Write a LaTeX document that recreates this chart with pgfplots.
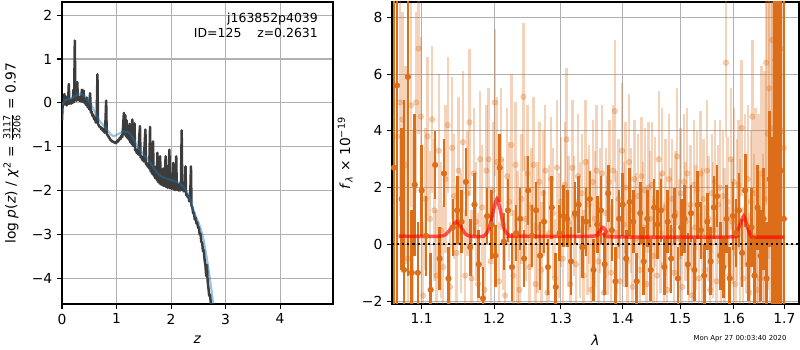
\documentclass[border=0pt]{standalone}
\usepackage{pgfplots}
\usepackage{pgfplotstable}
\usepackage{amsmath}
\usepackage{fontspec}
\setmainfont{DejaVu Sans}
\pgfplotsset{compat=1.18}
\definecolor{darkor}{RGB}{220,110,25}
\definecolor{gridc}{RGB}{176,176,176}
\definecolor{pzline}{RGB}{60,60,60}
\definecolor{pzblue}{RGB}{31,119,180}

\pgfplotstableread{
x y e
1.064 2.7 9
1.068 5.6 8
1.074 1.6 2.5
1.077 -0.9 6
1.082 5.9 7
1.087 -1.0 2.2
1.091 2.1 2.5
1.095 -1.0 1.8
1.100 1.9 1.6
1.106 0.3 1.4
1.112 -1.6 1.3
1.118 2.8 1.2
1.124 -0.5 1.1
1.130 2.5 1.2
1.136 -1.2 1.1
1.142 0.6 1.0
1.148 1.2 1.2
1.154 0.8 1.1
1.160 2.2 1.2
1.166 -0.1 1.0
1.172 1.4 1.1
1.178 -0.7 1.2
1.184 -1.9 1.1
1.190 1.0 1.0
1.196 0.7 1.2
1.202 -0.4 1.1
1.208 2.7 1.2
1.214 0.1 1.0
1.220 1.2 1.1
1.226 -0.8 1.2
1.232 0.4 1.0
1.238 0.9 1.1
1.244 -0.5 1.0
1.250 1.9 1.2
1.256 0.3 1.1
1.262 1.2 1.0
1.268 -0.4 1.2
1.274 0.8 1.1
1.280 -0.8 1.0
1.286 1.3 1.1
1.292 -1.5 1.2
1.298 0.4 1.0
1.304 1.0 1.1
1.310 0.9 1.0
1.316 -0.6 1.2
1.322 1.1 1.1
1.328 1.4 1.0
1.334 -0.1 1.1
1.340 0.8 1.2
1.346 1.6 1.0
1.352 -0.9 1.1
1.358 0.7 1.0
1.364 1.2 1.2
1.370 -0.7 1.1
1.376 1.8 1.0
1.382 0.5 1.1
1.388 -1.3 1.2
1.394 0.9 1.0
1.400 1.4 1.1
1.406 -0.5 1.0
1.412 1.5 1.2
1.418 0.8 1.1
1.424 -1.3 1.0
1.430 1.1 1.1
1.436 -0.6 1.2
1.442 0.9 1.0
1.448 -0.9 1.1
1.454 1.3 1.0
1.460 0.7 1.2
1.466 1.2 1.1
1.472 -0.8 1.0
1.478 0.8 1.1
1.484 -0.5 1.2
1.490 1.0 1.0
1.496 -1.2 1.1
1.502 0.6 1.0
1.508 0.9 1.2
1.514 -0.7 1.1
1.520 1.1 1.0
1.526 -0.9 1.1
1.532 1.4 1.2
1.538 0.5 1.0
1.544 -1.1 1.1
1.550 0.8 1.0
1.556 -0.6 1.2
1.562 1.3 1.1
1.568 1.7 1.1
1.574 -0.4 1.2
1.580 -0.8 1.1
1.586 0.9 1.2
1.592 -1.2 1.1
1.598 1.0 1.2
1.604 0.4 1.2
1.610 1.2 1.3
1.616 -0.3 1.2
1.622 1.9 1.3
1.628 -0.7 1.3
1.634 0.6 1.4
1.640 -1.1 1.4
1.646 1.3 1.5
1.652 -0.4 1.6
1.658 0.9 1.8
1.664 -1.2 2.0
1.670 2.3 2.4
1.675 0.8 3
1.680 3.1 8
1.686 1.9 9
1.692 2.6 10
1.699 0.9 10
}\darkdata

\pgfplotstableread{
x y e
1.068 3.8 4.5
1.072 5.0 4.0
1.075 4.4 3.8
1.079 2.8 3.5
1.082 -0.5 3.2
1.086 4.9 3.6
1.089 1.0 3.0
1.093 5.0 3.2
1.096 6.9 3.0
1.099 4.5 2.8
1.102 -1.8 2.6
1.105 1.6 2.5
1.108 3.8 2.8
1.111 0.9 2.4
1.114 4.4 2.6
1.117 1.2 2.5
1.120 -1.1 2.3
1.123 3.3 2.7
1.126 0.5 2.4
1.129 -0.8 2.2
1.132 2.3 2.6
1.135 4.2 2.4
1.138 -1.5 2.3
1.141 3.4 2.5
1.144 1.7 2.2
1.147 -0.3 2.4
1.150 2.6 2.6
1.153 0.4 2.1
1.156 3.6 2.5
1.159 -1.1 2.3
1.162 1.8 2.2
1.165 4.3 2.6
1.168 -1.2 2.4
1.171 2.5 2.3
1.174 0.8 2.1
1.177 -1.4 2.5
1.180 3.0 2.4
1.183 1.3 2.2
1.186 -1.6 2.6
1.189 2.6 2.3
1.192 3.0 2.5
1.195 -0.6 2.2
1.198 1.9 2.4
1.201 5.0 2.6
1.204 2.9 2.3
1.207 -1.3 2.1
1.210 3.0 2.5
1.213 0.7 2.3
1.216 -1.8 2.2
1.219 2.4 2.4
1.222 1.5 2.1
1.225 3.5 2.5
1.228 -1.1 2.3
1.231 2.8 2.2
1.234 0.2 2.4
1.237 -1.6 2.1
1.240 1.6 2.3
1.243 5.2 2.6
1.246 0.9 2.2
1.249 2.5 2.4
1.252 -0.8 2.3
1.255 1.3 2.1
1.258 2.8 2.4
1.261 -1.4 2.2
1.264 0.6 2.3
1.267 2.2 2.1
1.270 -0.9 2.4
1.273 1.8 2.2
1.276 2.6 2.3
1.279 -1.7 2.1
1.282 0.4 2.4
1.285 2.3 2.2
1.288 1.1 2.3
1.291 -1.2 2.1
1.294 2.7 2.4
1.297 0.3 2.2
1.300 1.5 2.3
1.303 -0.5 2.1
1.306 2.1 2.2
1.309 3.7 2.5
1.312 0.8 2.3
1.315 -1.4 2.2
1.318 2.7 2.4
1.321 1.0 2.1
1.324 -0.7 2.3
1.327 2.4 2.2
1.330 0.5 2.4
1.333 1.8 2.1
1.336 -1.1 2.3
1.339 2.9 2.2
1.342 0.6 2.4
1.345 1.4 2.1
1.348 -1.6 2.3
1.351 2.2 2.2
1.354 0.9 2.4
1.357 2.6 2.3
1.360 -0.6 2.1
1.363 1.2 2.2
1.366 2.5 2.4
1.369 -1.7 2.2
1.372 1.1 2.3
1.375 0.3 2.1
1.378 2.2 2.2
1.381 -1.0 2.4
1.384 2.6 2.3
1.387 4.7 2.5
1.390 0.4 2.2
1.393 1.6 2.1
1.396 -1.3 2.3
1.399 3.3 2.4
1.402 0.7 2.2
1.405 2.0 2.3
1.408 -0.6 2.1
1.411 2.9 2.4
1.414 1.2 2.2
1.417 -1.5 2.3
1.420 2.3 2.1
1.423 0.2 2.3
1.426 1.7 2.2
1.429 -0.9 2.4
1.432 2.4 2.1
1.435 0.6 2.3
1.438 1.9 2.2
1.441 -1.4 2.1
1.444 2.0 2.3
1.447 0.9 2.4
1.450 2.1 2.2
1.453 -0.4 2.1
1.456 1.5 2.3
1.459 -1.1 2.2
1.462 3.0 2.4
1.465 0.4 2.1
1.468 2.5 2.3
1.471 -0.7 2.2
1.474 1.3 2.4
1.477 -1.6 2.1
1.480 2.3 2.3
1.483 0.5 2.2
1.486 1.6 2.1
1.489 -1.0 2.3
1.492 1.1 2.2
1.495 3.1 2.4
1.498 0.2 2.1
1.501 1.8 2.3
1.504 -1.5 2.2
1.507 2.2 2.4
1.510 0.8 2.1
1.513 2.5 2.3
1.516 -0.8 2.2
1.519 1.4 2.1
1.522 -1.8 2.4
1.525 2.1 2.3
1.528 0.6 2.2
1.531 1.9 2.1
1.534 -1.2 2.3
1.537 2.5 2.2
1.540 0.3 2.4
1.543 1.6 2.1
1.546 -0.9 2.3
1.549 2.6 2.5
1.552 0.9 2.2
1.555 -1.6 2.3
1.558 1.8 2.1
1.561 0.5 2.4
1.564 2.2 2.2
1.567 -1.3 2.3
1.570 1.4 2.1
1.573 2.0 2.4
1.576 -0.6 2.2
1.579 1.7 2.3
1.582 0.2 2.5
1.585 6.4 2.6
1.588 1.5 2.3
1.591 -1.1 2.4
1.594 3.0 2.5
1.597 0.8 2.2
1.600 2.2 2.6
1.603 -1.4 2.4
1.606 1.2 2.5
1.609 2.1 2.3
1.612 0.4 2.6
1.615 4.1 2.4
1.618 -1.2 2.5
1.621 1.9 2.7
1.624 0.7 2.4
1.627 2.3 2.6
1.630 -1.7 2.8
1.633 1.5 2.5
1.636 4.5 2.7
1.639 0.3 2.9
1.642 1.8 3.0
1.645 -1.6 3.2
1.648 1.2 3.4
1.651 -1.2 3.6
1.654 2.5 3.8
1.657 -0.8 4.0
1.660 1.6 4.5
1.663 6.4 5
1.666 3.9 5.5
1.669 5.5 6
1.672 2.3 6.5
1.675 7.2 7
1.678 4.1 7.5
1.681 6.5 8
1.684 3.4 8.5
1.687 8.0 9
1.690 3.9 9
1.693 6.9 9.5
1.696 4.0 10
1.699 3.4 10
}\lightdata

\pgfplotsset{
  every axis/.append style={
    scale only axis,
    axis line style={line width=0.8pt},
    tick style={line width=0.8pt, black},
    major tick length=3.5pt,
    tick align=outside,
    xtick pos=bottom, ytick pos=left,
    grid=major,
    major grid style={line width=0.8pt, gridc},
    tick label style={font=\fontsize{10}{12}\selectfont},
    label style={font=\fontsize{10}{12}\selectfont},
    /pgf/number format/assume math mode=true,
  }
}

\begin{document}
\begin{tikzpicture}
\useasboundingbox (0,0) rectangle (8in,3.5in);

% ---------------- left panel: p(z)
\begin{axis}[
  at={(0.62in,0.46in)}, anchor=south west,
  width=2.71in, height=3.02in,
  xmin=0, xmax=4.97, ymin=-4.59, ymax=2.3,
  xtick={0,1,2,3,4},
  ytick={-4,-3,-2,-1,0,1,2},
  yticklabels={−4,−3,−2,−1,0,1,2},
  xlabel={\textit{z}},
  ylabel={log \textit{p}(\textit{z}) / \textit{χ}\textsuperscript{2} = $\frac{\text{3117}}{\text{3206}}$ = 0.97},
  xlabel style={at={(axis description cs:0.5,-0.119)}, anchor=center},
  ylabel style={at={(axis description cs:-0.185,0.5)}, anchor=center},
]
\addplot[pzline, line width=1.8pt, line join=round] coordinates {
(0.000,-0.40)(0.010,-0.10)(0.020,0.00)(0.030,-0.05)(0.045,0.20)(0.055,-0.03)(0.070,-0.02)(0.085,-0.06)(0.100,0.15)(0.110,-0.03)(0.125,0.43)(0.135,-0.02)(0.150,0.02)(0.165,-0.02)(0.180,0.08)(0.195,0.00)(0.210,0.30)(0.222,0.02)(0.235,1.42)(0.245,0.08)(0.255,0.35)(0.265,0.05)(0.280,0.47)(0.292,0.06)(0.305,0.15)(0.320,0.05)(0.335,0.10)(0.350,0.03)(0.365,0.30)(0.380,0.02)(0.395,0.28)(0.410,0.00)(0.425,0.05)(0.440,-0.05)(0.455,0.12)(0.470,-0.10)(0.485,-0.05)(0.500,-0.15)(0.515,0.22)(0.530,-0.22)(0.545,-0.20)(0.560,-0.30)(0.575,-0.28)(0.590,-0.38)(0.605,-0.35)(0.620,-0.45)(0.635,-0.42)(0.650,0.65)(0.660,-0.48)(0.675,-0.52)(0.690,-0.55)(0.705,-0.55)(0.720,-0.60)(0.735,-0.58)(0.750,-0.64)(0.765,-0.62)(0.780,-0.68)(0.795,-0.50)(0.810,0.05)(0.820,-0.70)(0.835,-0.74)(0.850,-0.76)(0.865,-0.80)(0.880,-0.82)(0.895,-0.86)(0.910,-0.86)(0.925,-0.89)(0.940,-0.88)(0.955,-0.91)(0.970,-0.90)(0.985,-0.92)(1.000,-0.88)(1.015,-0.90)(1.030,-0.85)(1.045,-0.86)(1.060,-0.80)(1.075,-0.82)(1.090,-0.75)(1.105,-0.78)(1.120,-0.55)(1.135,-0.23)(1.145,-0.72)(1.160,-0.28)(1.170,-0.76)(1.185,-0.40)(1.195,-0.80)(1.210,-0.60)(1.225,-0.84)(1.240,-0.48)(1.250,-0.90)(1.265,-0.86)(1.280,-0.94)(1.290,-0.38)(1.300,-0.98)(1.315,-0.98)(1.330,-0.47)(1.340,-1.08)(1.355,-1.06)(1.370,-1.14)(1.385,-1.12)(1.400,-1.18)(1.415,-0.80)(1.430,-0.53)(1.440,-1.24)(1.455,-1.22)(1.470,-1.30)(1.485,-1.28)(1.500,-1.34)(1.515,-0.95)(1.530,-0.61)(1.540,-1.40)(1.555,-1.38)(1.570,-1.45)(1.585,-1.44)(1.600,-1.50)(1.615,-0.55)(1.625,-1.56)(1.640,-1.55)(1.655,-1.62)(1.670,-0.88)(1.680,-1.66)(1.695,-1.66)(1.710,-1.72)(1.725,-1.45)(1.740,-1.76)(1.750,-1.14)(1.760,-1.80)(1.775,-1.62)(1.790,-1.84)(1.800,-1.22)(1.810,-1.86)(1.825,-1.75)(1.840,-1.88)(1.855,-1.50)(1.870,-1.90)(1.885,-1.80)(1.900,-1.22)(1.910,-1.92)(1.925,-1.85)(1.940,-1.94)(1.955,-1.50)(1.970,-1.07)(1.980,-1.95)(1.995,-1.90)(2.010,-1.96)(2.025,-1.70)(2.040,-1.37)(2.050,-1.98)(2.065,-1.92)(2.080,-1.99)(2.095,-1.22)(2.105,-1.98)(2.120,-1.95)(2.135,-2.00)(2.150,-1.85)(2.165,-2.00)(2.180,-1.98)(2.195,-0.63)(2.205,-1.98)(2.220,-1.95)(2.235,-2.02)(2.250,-2.00)(2.265,-1.45)(2.275,-2.10)(2.290,-2.08)(2.305,-2.15)(2.320,-2.12)(2.335,-2.25)(2.350,-2.20)(2.365,-1.45)(2.375,-2.35)(2.390,-2.38)(2.405,-2.52)(2.420,-2.50)(2.435,-2.66)(2.450,-2.62)(2.465,-2.75)(2.480,-2.72)(2.495,-2.85)(2.510,-2.84)(2.525,-3.00)(2.540,-2.98)(2.555,-3.18)(2.570,-3.18)(2.585,-3.38)(2.600,-3.36)(2.615,-3.58)(2.630,-3.70)(2.645,-3.95)(2.660,-3.70)(2.670,-4.05)(2.685,-4.22)(2.700,-4.40)(2.715,-4.38)(2.730,-4.58)(2.745,-4.72)
};
\addplot[pzblue, opacity=0.45, line width=1.5pt, smooth] coordinates {
(0.00,-0.05)(0.05,0.05)(0.10,0.08)(0.15,0.10)(0.20,0.12)(0.25,0.16)(0.30,0.20)(0.35,0.21)(0.40,0.17)(0.45,0.10)(0.50,0.02)(0.55,-0.08)(0.60,-0.20)(0.65,-0.33)(0.70,-0.43)(0.75,-0.50)(0.80,-0.57)(0.85,-0.65)(0.90,-0.73)(0.95,-0.76)(1.00,-0.73)(1.05,-0.70)(1.10,-0.67)(1.15,-0.66)(1.20,-0.66)(1.25,-0.70)(1.30,-0.80)(1.35,-0.92)(1.40,-1.02)(1.45,-1.10)(1.50,-1.18)(1.55,-1.25)(1.60,-1.33)(1.65,-1.42)(1.70,-1.52)(1.75,-1.60)(1.80,-1.66)(1.85,-1.70)(1.90,-1.72)(1.95,-1.74)(2.00,-1.76)(2.05,-1.78)(2.10,-1.80)(2.15,-1.83)(2.20,-1.88)(2.25,-1.95)(2.30,-2.05)(2.35,-2.20)(2.40,-2.40)(2.45,-2.58)(2.50,-2.72)(2.55,-2.90)(2.60,-3.15)(2.65,-3.50)(2.70,-3.90)(2.75,-4.35)(2.78,-4.65)
};
\node[anchor=north east, align=right, font=\fontsize{9}{11}\selectfont, inner sep=0pt]
  at (rel axis cs:0.945,0.965) {j163852p4039\\ID=125\ \ \ \ z=0.2631};
\end{axis}

% ---------------- right panel: spectrum
\begin{axis}[
  at={(3.92in,0.46in)}, anchor=south west,
  width=4.07in, height=3.02in,
  xmode=log,
  xmin=1.0616, xmax=1.730, ymin=-2.1, ymax=8.54,
  xtick={1.1,1.2,1.3,1.4,1.5,1.6,1.7},
  xticklabels={1.1,1.2,1.3,1.4,1.5,1.6,1.7},
  minor xtick={},
  ytick={-2,0,2,4,6,8},
  yticklabels={−2,0,2,4,6,8},
  xlabel={\textit{λ}},
  ylabel={\textit{f}\textsubscript{\textit{λ}} × 10\textsuperscript{−19}},
  xlabel style={at={(axis description cs:0.5,-0.119)}, anchor=center},
  ylabel style={at={(axis description cs:-0.115,0.5)}, anchor=center},
]
\addplot[only marks, mark=*, mark size=2pt, darkor, opacity=0.3,
  error bars/.cd, y dir=both, y explicit, error mark=none,
  error bar style={line width=1.7pt, darkor, opacity=0.3}]
  table[x=x, y=y, y error=e]{\lightdata};
\addplot[only marks, mark=*, mark size=2pt, darkor,
  error bars/.cd, y dir=both, y explicit, error mark=none,
  error bar style={line width=1.9pt, darkor}]
  table[x=x, y=y, y error=e]{\darkdata};
\addplot[red, opacity=0.65, line width=2.5pt, smooth, tension=0.4] coordinates {
(1.070,0.29)(1.125,0.29)(1.135,0.42)(1.142,0.66)(1.147,0.80)(1.152,0.66)(1.159,0.38)(1.166,0.29)(1.185,0.29)(1.193,0.58)(1.199,1.20)(1.204,1.60)(1.209,1.20)(1.215,0.52)(1.222,0.31)(1.230,0.29)(1.350,0.29)(1.360,0.42)(1.367,0.60)(1.373,0.45)(1.381,0.27)(1.590,0.26)(1.604,0.36)(1.612,0.70)(1.619,1.00)(1.625,0.70)(1.632,0.32)(1.640,0.26)(1.700,0.26)
};
\addplot[black, line width=1.5pt, dash pattern=on 1.5pt off 2.2pt] coordinates {(1.0616,0) (1.730,0)};
\end{axis}

\node[font=\fontsize{5}{6}\selectfont] at (7.4in,0.11in) {Mon Apr 27 00:03:40 2020};
\end{tikzpicture}
\end{document}
